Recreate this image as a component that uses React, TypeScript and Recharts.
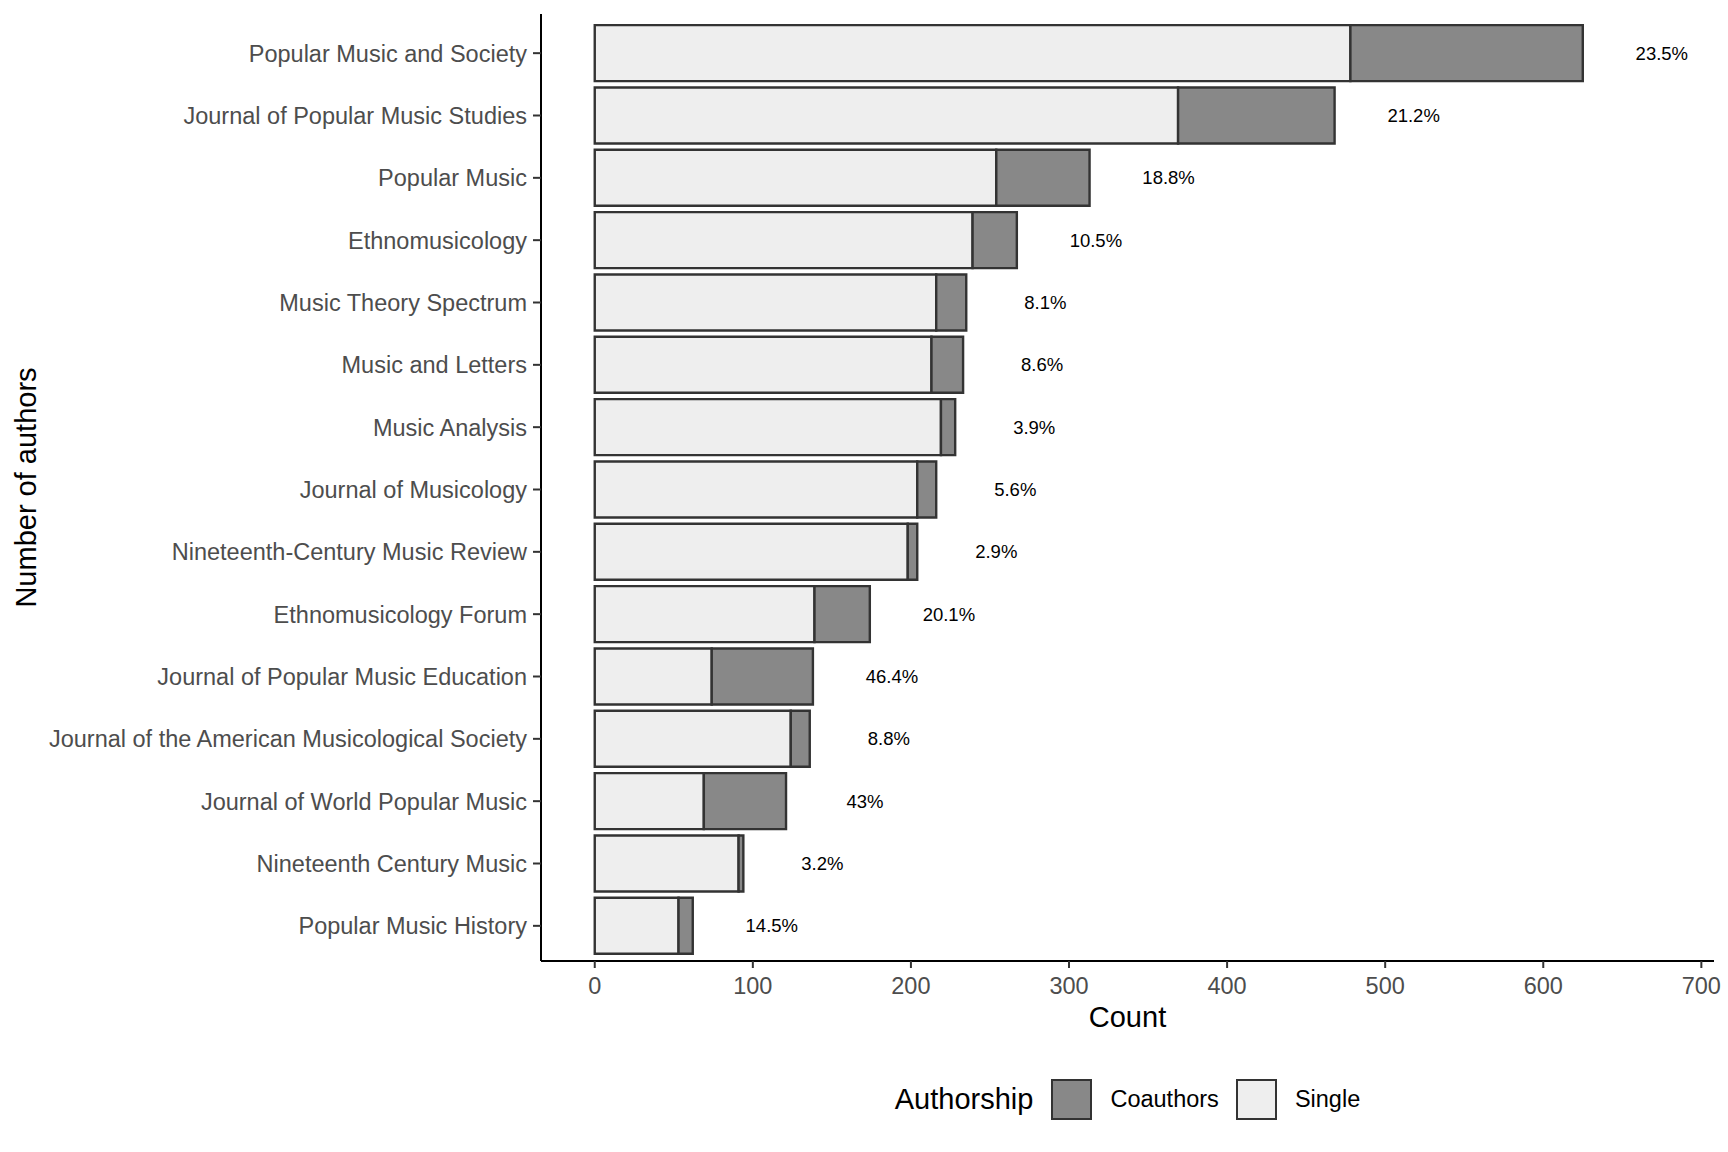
import { Bar, BarChart, LabelList, XAxis, YAxis } from "recharts";

const journals = [
  "Popular Music and Society",
  "Journal of Popular Music Studies",
  "Popular Music",
  "Ethnomusicology",
  "Music Theory Spectrum",
  "Music and Letters",
  "Music Analysis",
  "Journal of Musicology",
  "Nineteenth-Century Music Review",
  "Ethnomusicology Forum",
  "Journal of Popular Music Education",
  "Journal of the American Musicological Society",
  "Journal of World Popular Music",
  "Nineteenth Century Music",
  "Popular Music History",
];
const single = [478, 369, 254, 239, 216, 213, 219, 204, 198, 139, 74, 124, 69, 91, 53];
const coauthors = [147, 99, 59, 28, 19, 20, 9, 12, 6, 35, 64, 12, 52, 3, 9];
const shares = [
  "23.5%", "21.2%", "18.8%", "10.5%", "8.1%", "8.6%", "3.9%", "5.6%",
  "2.9%", "20.1%", "46.4%", "8.8%", "43%", "3.2%", "14.5%",
];
const countTicks = [0, 100, 200, 300, 400, 500, 600, 700];

// label sits this many counts past the end of each bar
const LABEL_GAP = 50;

const FONT = '"Liberation Sans", Arial, Helvetica, sans-serif';
const OUTLINE = "#333333";

const rows = journals.map((journal, i) => ({
  journal,
  single: single[i],
  coauthors: coauthors[i],
  pad: LABEL_GAP,
  share: shares[i],
}));

const ShareLabel = (props: any) => {
  const { x, y, width, height, value } = props;
  return (
    <text
      x={x + width}
      y={y + height / 2}
      textAnchor="middle"
      dominantBaseline="central"
      fontFamily={FONT}
      fontSize={18.5}
      fill="#000"
    >
      {value}
    </text>
  );
};

const YTitle = (props: any) => {
  const { viewBox } = props;
  const cx = viewBox.x + 26;
  const cy = viewBox.y + viewBox.height / 2;
  return (
    <text
      x={cx}
      y={cy}
      transform={`rotate(-90, ${cx}, ${cy})`}
      textAnchor="middle"
      dominantBaseline="central"
      fontFamily={FONT}
      fontSize={29}
      fill="#000"
    >
      Number of authors
    </text>
  );
};

function LegendKey({ fill }: { fill: string }) {
  return (
    <div
      style={{
        width: 41,
        height: 41,
        boxSizing: "border-box",
        background: fill,
        border: `2px solid ${OUTLINE}`,
      }}
    />
  );
}

export default function App() {
  const tick = { fontFamily: FONT, fontSize: 23.5, fill: "#4D4D4D" };
  return (
    <div
      style={{
        position: "absolute",
        left: 0,
        top: 0,
        width: 1728,
        height: 1152,
        background: "#fff",
        fontFamily: FONT,
      }}
    >
      <BarChart
        width={1728}
        height={1152}
        data={rows}
        layout="vertical"
        margin={{ top: 14, right: 14, bottom: 151, left: 0 }}
        barCategoryGap="5%"
      >
        <XAxis
          type="number"
          domain={[-34, 708]}
          ticks={countTicks}
          allowDataOverflow
          height={40}
          tick={tick}
          tickSize={7}
          tickMargin={9}
          tickLine={{ stroke: OUTLINE, strokeWidth: 2 }}
          axisLine={{ stroke: "#000", strokeWidth: 2 }}
          label={{
            value: "Count",
            position: "bottom",
            offset: 5,
            style: { fontFamily: FONT, fontSize: 29, fill: "#000" },
          }}
        />
        <YAxis
          type="category"
          dataKey="journal"
          width={541}
          interval={0}
          padding={{ top: 8, bottom: 4 }}
          tick={tick}
          tickSize={8}
          tickMargin={6}
          tickLine={{ stroke: OUTLINE, strokeWidth: 2 }}
          axisLine={{ stroke: "#000", strokeWidth: 2 }}
          label={<YTitle />}
        />
        <Bar
          dataKey="single"
          stackId="a"
          fill="#EEEEEE"
          stroke={OUTLINE}
          strokeWidth={2.4}
          isAnimationActive={false}
        />
        <Bar
          dataKey="coauthors"
          stackId="a"
          fill="#888888"
          stroke={OUTLINE}
          strokeWidth={2.4}
          isAnimationActive={false}
        />
        <Bar
          dataKey="pad"
          stackId="a"
          fill="transparent"
          stroke="none"
          isAnimationActive={false}
        >
          <LabelList dataKey="share" content={<ShareLabel />} />
        </Bar>
      </BarChart>

      <div
        style={{
          position: "absolute",
          left: 541,
          width: 1173,
          top: 1079,
          height: 41,
          display: "flex",
          alignItems: "center",
          justifyContent: "center",
        }}
      >
        <span style={{ fontSize: 29, color: "#000", marginRight: 18 }}>Authorship</span>
        <LegendKey fill="#888888" />
        <span style={{ fontSize: 23.5, color: "#000", marginLeft: 18, marginRight: 17 }}>Coauthors</span>
        <LegendKey fill="#EEEEEE" />
        <span style={{ fontSize: 23.5, color: "#000", marginLeft: 18 }}>Single</span>
      </div>
    </div>
  );
}
